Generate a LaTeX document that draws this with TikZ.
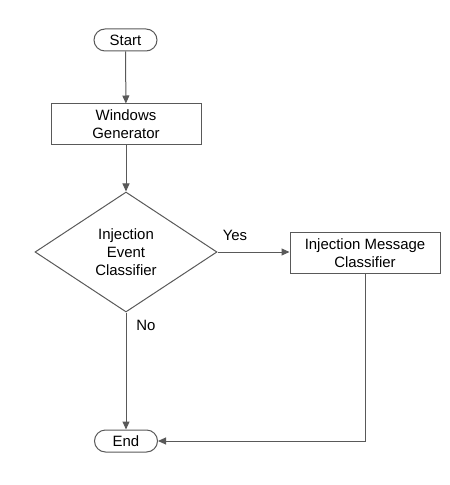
\documentclass[tikz,border=0pt]{standalone}
\usepackage{fontspec}
\setmainfont{Liberation Sans}
\usetikzlibrary{arrows.meta, calc, shapes.geometric}

\definecolor{linegray}{HTML}{595959}

\begin{document}
\begin{tikzpicture}[x=1bp, y=-1bp,
    every node/.style={font=\fontsize{15}{18}\selectfont, align=center, text=black},
    term/.style={draw=linegray, line width=1bp, rounded corners=11bp, minimum width=63bp, minimum height=22bp, inner sep=0pt},
    proc/.style={draw=linegray, line width=1bp, minimum width=150bp, minimum height=41bp, inner sep=0pt},
    dec/.style={draw=linegray, line width=1bp, diamond, aspect=1.5, minimum width=182bp, minimum height=120bp, inner sep=0pt},
    flow/.style={draw=linegray, line width=1bp, -{Triangle[length=8bp, width=7bp]}}]
    \useasboundingbox (0,0) rectangle (450,485);
%%%%%%%%%%%%%%%%%%%%%%%%%%%%%%%%%%%%%%%%%%
    \node[term] (start) at (125.5,40) {Start};
    \node[proc] (wingen) at (126,124.5) {Windows\\Generator};
    \node[dec] (evtcls) at (126,252) {Injection\\Event\\Classifier};
    \node[proc] (msgcls) at (365,253) {Injection Message\\Classifier};
    \node[term] (end) at (126,441) {End};
%%%%%%%%%%%%%%%%%%%%%%%%%%%%%%%%%%%%%%%%%%
    \draw[flow] (start) -- (wingen);
    \draw[flow] (wingen) -- (evtcls);
    \draw[flow] (evtcls.east) -- (msgcls.west |- evtcls.east);
    \draw[flow] (evtcls.south) -- (end.north);
    \draw[flow] (msgcls.south) |- (end.east);
    \node (yes) at (235,235) {Yes};
    \node (no) at (146,325) {No};
\end{tikzpicture}
\end{document}
